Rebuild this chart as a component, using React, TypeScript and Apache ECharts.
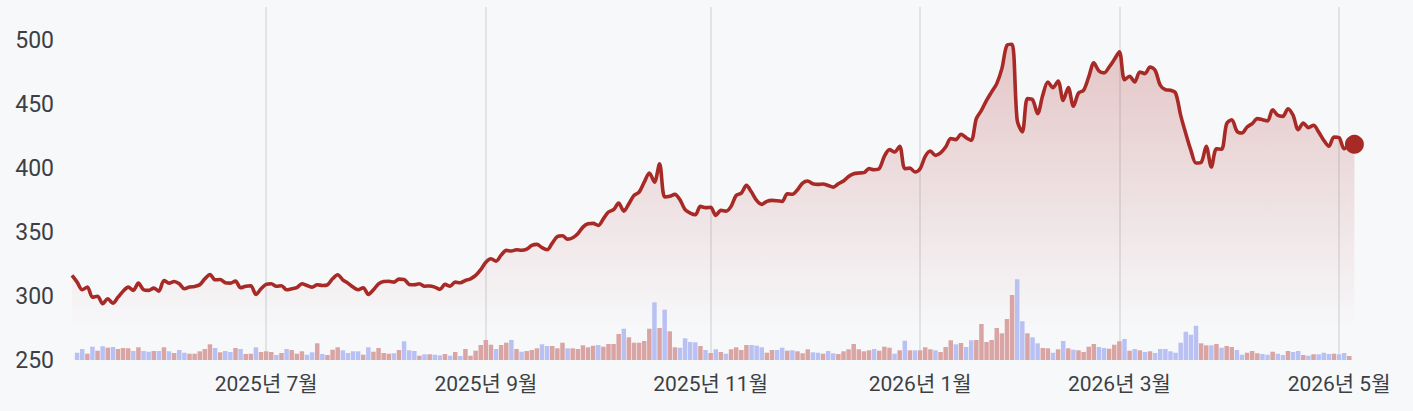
import React, { useEffect, useRef } from "react";
import * as echarts from "echarts";

// ---- calendar (US trading days) ----
const START_DATE = "2025-05-06";
const END_DATE = "2026-05-06";
const HOLIDAYS = [
  "2025-05-26", "2025-06-19", "2025-07-04", "2025-09-01", "2025-11-27",
  "2025-12-25", "2026-01-01", "2026-01-19", "2026-02-16", "2026-04-03",
];
const LABEL_MONTHS = [7, 9, 11, 1, 3, 5];
const Y_TICKS = [250, 300, 350, 400, 450, 500];

function buildTradingDays(): string[] {
  const out: string[] = [];
  const d = new Date(START_DATE + "T00:00:00Z");
  const end = new Date(END_DATE + "T00:00:00Z");
  while (d <= end) {
    const wd = d.getUTCDay();
    const s = d.toISOString().slice(0, 10);
    if (wd !== 0 && wd !== 6 && !HOLIDAYS.includes(s)) out.push(s);
    d.setUTCDate(d.getUTCDate() + 1);
  }
  return out;
}
const categories = buildTradingDays();

// ---- closing prices (one per trading day) ----
const closePrices = [
  316.1, 310.9, 304.9, 307.0, 299.1, 299.9, 294.0, 297.9, 294.4, 299.1,
  303.8, 307.0, 304.4, 310.1, 304.9, 304.4, 306.2, 303.8, 312.2, 310.1,
  311.4, 309.6, 305.7, 307.0, 307.5, 308.8, 313.5, 316.9, 312.7, 312.9,
  310.4, 310.1, 311.7, 306.5, 307.7, 308.0, 301.3, 305.7, 309.1, 309.6,
  307.7, 308.1, 304.9, 305.7, 306.5, 309.6, 308.3, 307.0, 308.8, 308.3,
  308.8, 313.5, 316.7, 312.7, 310.1, 307.0, 304.9, 306.5, 301.3, 304.9,
  309.6, 311.4, 311.6, 310.9, 313.2, 313.0, 309.1, 308.8, 309.6, 307.7,
  307.9, 307.0, 305.2, 309.1, 307.7, 310.9, 310.4, 312.2, 313.5, 316.1,
  320.6, 326.5, 329.2, 327.3, 332.0, 335.7, 335.2, 336.2, 335.8, 336.7,
  339.6, 340.4, 337.8, 336.2, 341.4, 346.6, 347.2, 344.5, 345.6, 348.7,
  353.9, 356.5, 356.8, 355.2, 360.4, 365.7, 367.5, 372.7, 366.4, 372.2,
  378.7, 381.3, 389.1, 396.2, 389.1, 403.5, 377.4, 378.0, 379.5, 375.3,
  367.5, 364.9, 363.6, 370.1, 369.1, 369.4, 363.1, 367.0, 366.4, 370.1,
  378.7, 380.5, 386.5, 381.3, 374.8, 371.7, 374.0, 374.8, 374.5, 374.0,
  380.0, 379.6, 383.1, 388.3, 389.9, 387.8, 387.3, 387.6, 386.5, 385.2,
  387.8, 389.9, 393.5, 395.6, 396.2, 396.5, 399.6, 398.8, 399.6, 409.2,
  414.5, 412.6, 417.1, 399.6, 400.0, 397.0, 399.6, 409.2, 413.4, 410.0,
  412.0, 416.5, 423.1, 422.3, 426.5, 423.8, 421.8, 438.7, 445.2, 453.0,
  459.6, 466.1, 477.8, 496.1, 496.9, 437.4, 428.3, 454.4, 453.6, 442.6,
  457.0, 467.4, 463.0, 468.2, 453.0, 463.0, 448.4, 458.8, 460.9, 471.3,
  482.3, 476.0, 474.5, 479.1, 484.9, 490.9, 469.2, 471.8, 467.4, 475.2,
  473.9, 479.1, 476.5, 464.8, 461.4, 460.9, 458.8, 441.3, 427.0, 413.9,
  404.0, 404.5, 417.1, 400.9, 415.2, 414.8, 434.8, 437.9, 429.0, 427.5,
  432.2, 434.8, 438.7, 437.9, 436.9, 445.7, 441.3, 440.5, 446.5, 441.3,
  430.1, 435.3, 431.7, 433.5, 428.3, 421.8, 417.1, 424.4, 423.8, 415.2,
  417.8, 418.6,
];

// ---- trading volume (relative units) ----
const volumes: (number | null)[] = [
  null,
  7.3, 11, 6.3, 13.3, 9.3, 13.7, 12.3, 13, 11, 12,
  11.7, 9, 12.7, 9, 8.3, 9, 9, 12.7, 8.7, 7,
  10, 7.3, 6.3, 6.3, 8.7, 11, 15.7, 12, 7.7, 9,
  8, 12, 11, 6, 6.3, 12.7, 8, 8.7, 8, 5,
  7, 11, 10, 6.3, 8.7, 5.3, 7.7, 16.7, 6, 5,
  10.3, 12.7, 9.7, 7, 8.7, 8.7, 5.3, 12.7, 8.3, 12,
  7, 6.3, 6.7, 10, 18.7, 9.7, 9, 4.3, 5.7, 5.7,
  5.3, 4.7, 6, 4.3, 8, 4, 11, 4.3, 9.3, 15,
  20, 15.3, 11, 15, 17.3, 20, 11, 8.3, 9, 10,
  11.7, 15.7, 14, 14, 11.7, 17.3, 11.7, 11.7, 11, 14.7,
  12.7, 14.3, 15, 13.3, 16, 16, 26, 31.3, 22.7, 17.3,
  17.3, 19, 31.3, 57.7, 32, 50.3, 28.7, 12.7, 12.3, 21.7,
  18, 17.7, 14, 10, 7, 10.7, 8, 6.3, 10.7, 12.7,
  10, 15, 15, 14.3, 12.7, 7.3, 10, 10, 12.3, 9.3,
  9.7, 8.7, 6.7, 10.7, 7.7, 7.3, 6.3, 9, 6.7, 6,
  8.7, 10.7, 16, 10.7, 8.7, 9.7, 11, 9.3, 13.3, 12.3,
  6.3, 9.7, 19.3, 9.7, 9.7, 9.7, 12.7, 10.7, 9.7, 8,
  13, 19.7, 15.7, 17, 13, 19.7, 20, 36, 18, 20,
  32, 26.7, 41, 65, 80.7, 38.7, 26.7, 22.7, 16.7, 12,
  11.7, 7.3, 10.7, 19, 11.7, 10.3, 9.7, 8, 13.3, 16,
  13, 12, 11.3, 15.3, 18.7, 21, 9.3, 11, 9.7, 8,
  8.7, 7, 11, 11, 8.7, 7.3, 17.3, 28.3, 25.3, 34.3,
  16.7, 14.7, 14.7, 16, 12.3, 14, 13, 10, 5.3, 7.3,
  9, 6.7, 6, 5.3, 8.3, 6.3, 5, 9, 8, 9,
  5, 4.3, 5.7, 5.7, 7.3, 6, 6.3, 5.7, 7, 4,
  null,
];

const BG = "#f7f8fa";
const LINE_COLOR = "#a82a26";
const UP_COLOR = "#d9a4a4";
const DOWN_COLOR = "#b9c1f3";
const TEXT_COLOR = "#3c4043";
const FONT = "Roboto, 'Noto Sans CJK KR', sans-serif";

const labelIdx = new Set<number>();
categories.forEach((d, i) => {
  if (i === 0) return;
  const m = +d.slice(5, 7);
  if (d.slice(5, 7) !== categories[i - 1].slice(5, 7) && LABEL_MONTHS.includes(m)) labelIdx.add(i);
});

function buildOption(): echarts.EChartsCoreOption {
  const last = closePrices.length - 1;
  return {
    animation: false,
    backgroundColor: BG,
    grid: { left: 72, right: 58.6, top: 7, bottom: 51 },
    xAxis: {
      type: "category",
      data: categories,
      boundaryGap: false,
      axisLine: { show: false },
      axisTick: { show: false },
      axisLabel: {
        interval: (i: number) => labelIdx.has(i),
        formatter: (v: string) => `${v.slice(0, 4)}년 ${+v.slice(5, 7)}월`,
        color: TEXT_COLOR,
        fontSize: 21,
        fontFamily: FONT,
        margin: 13,
      },
      splitLine: {
        show: true,
        interval: (i: number) => labelIdx.has(i),
        lineStyle: { color: "#dadce0", width: 1.5 },
      },
    },
    yAxis: [
      {
        type: "value",
        min: 250,
        max: 526,
        interval: 50,
        axisLine: { show: false },
        axisTick: { show: false },
        splitLine: { show: false },
        axisLabel: {
          formatter: (v: number) => (Y_TICKS.includes(v) ? String(v) : ""),
          showMaxLabel: false,
          color: TEXT_COLOR,
          fontSize: 23,
          fontFamily: FONT,
          margin: 18,
        },
      },
      { type: "value", min: 0, max: 353, show: false },
    ],
    series: [
      {
        type: "line",
        data: closePrices,
        smooth: 0.3,
        symbol: "none",
        lineStyle: { color: LINE_COLOR, width: 3.6 },
        areaStyle: {
          origin: 279,
          color: new echarts.graphic.LinearGradient(0, 0, 0, 1, [
            { offset: 0, color: "rgba(172,48,44,0.36)" },
            { offset: 1, color: "rgba(172,48,44,0.01)" },
          ]),
        },
        z: 3,
      },
      {
        type: "bar",
        yAxisIndex: 1,
        data: volumes,
        barWidth: 4.5,
        itemStyle: {
          color: (p: any) =>
            p.dataIndex > 0 && closePrices[p.dataIndex] >= closePrices[p.dataIndex - 1] ? UP_COLOR : DOWN_COLOR,
        },
        z: 4,
      },
      {
        type: "scatter",
        data: [[last, closePrices[last]]],
        symbolSize: 19,
        itemStyle: { color: LINE_COLOR, opacity: 1 },
        z: 5,
      },
    ],
  };
}

export default function App() {
  const ref = useRef<HTMLDivElement>(null);
  useEffect(() => {
    document.body.style.margin = "0";
    document.body.style.background = BG;
    const chart = echarts.init(ref.current!, null, { renderer: "svg" });
    chart.setOption(buildOption());
    return () => chart.dispose();
  }, []);
  return <div ref={ref} style={{ width: 1413, height: 411 }} />;
}
